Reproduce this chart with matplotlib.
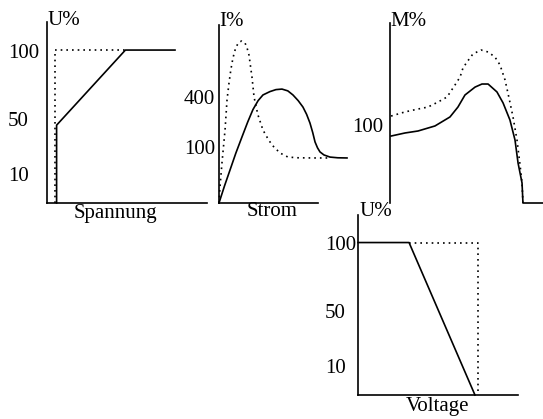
import matplotlib
matplotlib.use("Agg")
import matplotlib.pyplot as plt

plt.rcParams['font.family'] = ['Liberation Serif', 'DejaVu Serif']
FS = 15

# ---- Panel 1: Spannung (schematic units, 0-100 of panel box)
p1_solid_x = [6, 6, 49, 80]
p1_solid_y = [0, 43, 84.5, 84.5]
p1_dot_x = [5, 5, 49]
p1_dot_y = [0, 84.5, 84.5]
p1_ticks = [84, 46.4, 16]
p1_labels = ['100', '50', '10']

# ---- Panel 2: Strom
p2_solid_x = [0, 5.5, 11.1, 17, 23.2, 29, 34.3, 39.5, 44.4, 51.5, 57.5, 63.6, 69.5, 74.7,
              80, 84.8, 88.5, 91.9, 94.7, 97.0, 99.5, 102.0, 106, 112.1, 120, 129.3]
p2_solid_y = [0, 9.5, 18.5, 28, 37.1, 45.5, 52.5, 57.5, 60.7, 62.6, 63.7, 64.0, 63.0, 60.7,
              57.5, 53.9, 49.8, 44.9, 39.5, 34.3, 31.0, 28.7, 27.0, 25.8, 25.4, 25.3]
p2_dot_x = [0, 1.0, 3.0, 6.1, 8.1, 10.1, 12, 14.1, 17, 20.2, 23, 26.3, 28.5, 30.3, 33.3,
            35.4, 37.5, 39.4, 44.4, 49, 53.5, 61.6, 69.7, 80, 95, 112.1]
p2_dot_y = [0, 9.0, 22.5, 41.0, 57.9, 67.4, 75, 81.5, 87.5, 90.4, 91, 89.9, 86.8, 83.1, 70.8,
            59.6, 54, 49.4, 41.0, 36.5, 32.6, 28.1, 25.8, 25.4, 25.3, 25.3]
p2_ticks = [59.3, 31.2]
p2_labels = ['400', '100']

# ---- Panel 3: M%
p3_solid_x = [0.7, 9.8, 18.3, 29.4, 39.2, 44.4, 49.0, 55.6, 60.1, 64.1, 69.9, 73.9, 78.4,
              81.7, 83.7, 86.3, 86.9, 100]
p3_solid_y = [37.2, 38.9, 40.0, 42.8, 47.8, 53.3, 60.0, 64.4, 66.1, 66.1, 61.7, 55.6, 46.1,
              35.0, 22.2, 11.1, 0, 0]
p3_dot_x = [0.7, 9.8, 18.3, 24.8, 31.4, 37.3, 42.5, 45.8, 47.7, 50.3, 54.2, 59.5, 64.1,
            68.6, 71.9, 75.2, 77.8, 80.4, 83.0, 85.0, 86.3, 86.9]
p3_dot_y = [48.3, 50.6, 52.2, 53.3, 56.1, 58.9, 65.6, 70.0, 75.0, 78.3, 82.8, 85.0, 83.9,
            81.1, 76.7, 68.3, 58.3, 47.8, 35.0, 21.1, 11.1, 0]
p3_ticks = [43.3]
p3_labels = ['100']

# ---- Panel 4: Voltage
p4_solid_x = [0, 31.9, 73.1]
p4_solid_y = [84.7, 84.7, 0]
p4_dot_x = [31.9, 75, 75]
p4_dot_y = [84.7, 84.7, 0]
p4_ticks = [84.7, 46.7, 16.1]
p4_labels = ['100', '50', '10']

W, H = 543, 419
fig = plt.figure(figsize=(W / 100, H / 100), dpi=100)


def make_ax(left, bottom, w, h, ticks, labels, pad_px, show_bottom=True):
    ax = fig.add_axes([left / W, 1 - bottom / H, w / W, h / H])
    ax.set_xlim(0, 100)
    ax.set_ylim(0, 100)
    for s in ['top', 'right']:
        ax.spines[s].set_visible(False)
    ax.spines['bottom'].set_visible(show_bottom)
    for s in ['left', 'bottom']:
        ax.spines[s].set_linewidth(1.2)
    ax.set_xticks([])
    ax.set_yticks(ticks)
    ax.set_yticklabels(labels, fontsize=FS, ha='left')
    ax.tick_params(axis='y', length=0, pad=pad_px * 0.72)
    ax.patch.set_alpha(0)
    return ax


DOT = dict(color='black', lw=1.2, linestyle=(0, (1.0, 2.4)), clip_on=False)
SOL = dict(color='black', lw=1.2, clip_on=False)

ax1 = make_ax(47, 203, 160, 181, p1_ticks, p1_labels, 39)
ax1.plot(p1_dot_x, p1_dot_y, **DOT)
ax1.plot(p1_solid_x, p1_solid_y, **SOL)
ax1.text(0.0, 1.006, 'U%', transform=ax1.transAxes, fontsize=FS, ha='left', va='center')
ax1.text(0.43, -0.06, 'Spannung', transform=ax1.transAxes, fontsize=FS, ha='center', va='center')

ax2 = make_ax(219, 203, 99, 178, p2_ticks, p2_labels, 35)
ax2.plot(p2_dot_x, p2_dot_y, **DOT)
ax2.plot(p2_solid_x, p2_solid_y, **SOL)
ax2.text(0.0, 1.022, 'I%', transform=ax2.transAxes, fontsize=FS, ha='left', va='center')
ax2.text(0.535, -0.05, 'Strom', transform=ax2.transAxes, fontsize=FS, ha='center', va='center')

ax3 = make_ax(390, 203, 153, 180, p3_ticks, p3_labels, 38, show_bottom=False)
ax3.plot(p3_dot_x, p3_dot_y, **DOT)
ax3.plot(p3_solid_x, p3_solid_y, **SOL)
ax3.text(0.005, 1.006, 'M%', transform=ax3.transAxes, fontsize=FS, ha='left', va='center')

ax4 = make_ax(358, 395, 160, 180, p4_ticks, p4_labels, 33)
ax4.plot(p4_dot_x, p4_dot_y, **DOT)
ax4.plot(p4_solid_x, p4_solid_y, **SOL)
ax4.text(0.012, 1.017, 'U%', transform=ax4.transAxes, fontsize=FS, ha='left', va='center')
ax4.text(0.5, -0.065, 'Voltage', transform=ax4.transAxes, fontsize=FS, ha='center', va='center')

fig.savefig('out.png', dpi=100)
